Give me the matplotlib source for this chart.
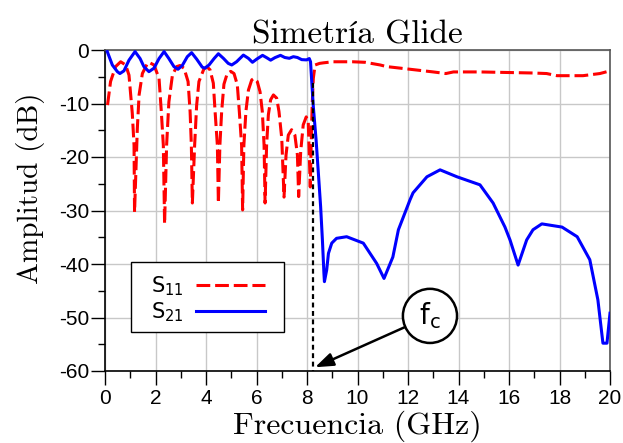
import matplotlib
matplotlib.use("Agg")
import matplotlib.pyplot as plt
from matplotlib.patches import Rectangle
from matplotlib.ticker import MultipleLocator, FuncFormatter

# ---- data ----
s21_freq = [0.09, 0.29, 0.49, 0.59, 0.75, 0.95, 1.19, 1.39, 1.54, 1.74, 1.94, 2.14, 2.34,
            2.53, 2.73, 2.89, 3.06, 3.26, 3.43, 3.63, 3.85, 3.95, 4.12, 4.32, 4.49, 4.69,
            4.88, 5.02, 5.21, 5.48, 5.68, 5.84, 6.01, 6.24, 6.4, 6.56, 6.73, 6.95, 7.12,
            7.3, 7.46, 7.62, 7.79, 7.98, 8.09, 8.14, 8.18, 8.25, 8.36, 8.45, 8.54, 8.61,
            8.67, 8.69, 8.78, 8.85, 8.98, 9.17, 9.57, 10.23, 10.76, 11.05, 11.4, 11.62,
            12.08, 12.2, 12.75, 13.27, 13.94, 14.85, 15.37, 15.84, 16.04, 16.36, 16.7,
            16.95, 17.3, 18.1, 18.7, 19.2, 19.52, 19.72, 19.88, 20.0]
s21_db = [-0.3, -2.8, -4.05, -4.4, -3.9, -1.9, -0.3, -1.6, -3.1, -4.05, -3.4, -1.6, -0.3,
          -1.6, -3.1, -3.6, -2.9, -1.25, -0.5, -1.7, -3.2, -3.4, -2.8, -1.6, -0.7, -1.56,
          -2.5, -2.8, -2.2, -0.95, -1.56, -2.3, -1.7, -1.0, -1.43, -1.9, -1.43, -1.0, -1.4,
          -1.55, -1.25, -1.4, -1.8, -1.85, -1.6, -2.2, -5.3, -10.6, -16.8, -23.0, -29.3, -35.5,
          -41.7, -43.3, -41.1, -38.0, -36.1, -35.2, -34.9, -36.1, -39.9, -42.7, -38.7, -33.6,
          -28.0, -26.7, -23.7, -22.4, -23.7, -25.2, -28.6, -33.1, -35.5, -40.2, -35.5,
          -33.6, -32.5, -33.1, -34.9, -39.2, -46.7, -54.8, -54.8, -49.2]

s11_freq = [0.1, 0.22, 0.42, 0.62, 0.82, 0.95, 1.08, 1.15, 1.17, 1.28, 1.35, 1.48, 1.68,
            1.74, 1.94, 2.14, 2.23, 2.31, 2.36, 2.44, 2.53, 2.67, 2.84, 2.97, 3.13, 3.29,
            3.37, 3.42, 3.46, 3.55, 3.63, 3.72, 3.92, 4.05, 4.16, 4.29, 4.36, 4.45, 4.49,
            4.55, 4.62, 4.71, 4.84, 4.98, 5.11, 5.24, 5.32, 5.41, 5.45, 5.5, 5.58, 5.68,
            5.81, 5.9, 6.03, 6.14, 6.23, 6.3, 6.34, 6.4, 6.47, 6.56, 6.67, 6.8, 6.89, 7.0,
            7.09, 7.17, 7.26, 7.39, 7.52, 7.62, 7.67, 7.75, 7.85, 7.97, 8.05, 8.13, 8.18,
            8.21, 8.25, 8.32, 8.5, 8.65, 9.03, 9.8, 10.3, 10.9, 11.15, 12.08, 13.0, 13.5,
            13.8, 14.85, 15.9, 16.95, 17.49, 17.9, 18.93, 19.6, 20.0]
s11_db = [-10.3, -5.9, -3.1, -2.2, -2.8, -4.7, -11.8, -17.8, -30.3, -14.7, -8.4, -4.4, -2.5,
          -2.3, -2.8, -5.3, -11.5, -17.8, -32.5, -17.8, -9.7, -4.7, -3.1, -2.9, -3.4, -5.9,
          -11.5, -17.8, -28.6, -17.8, -10.3, -5.9, -3.5, -3.2, -3.7, -6.2, -11.5, -17.8, -28.6,
          -17.8, -11.5, -6.4, -4.4, -4.0, -4.4, -6.5, -11.5, -17.8, -29.9, -17.8, -11.5, -7.5,
          -5.6, -5.3, -5.9, -7.8, -11.5, -17.8, -28.6, -17.8, -12.1, -9.3, -8.4, -9.0, -11.5,
          -16.5, -27.5, -19.6, -15.9, -14.9, -15.9, -19.6, -27.4, -19.0, -14.0, -12.5, -13.5,
          -25.6, -14.6, -9.7, -5.3, -2.8, -2.5, -2.4, -2.2, -2.2, -2.3, -2.8, -3.1, -3.6,
          -4.1, -4.4, -4.1, -4.1, -4.2, -4.3, -4.4, -4.8, -4.8, -4.4, -3.9]

fc_ghz = 8.22
x_ticks = list(range(0, 21, 2))
y_ticks = list(range(-60, 1, 10))

# ---- figure ----
fig = plt.figure(figsize=(6.23, 4.43), dpi=100)
ax = fig.add_axes([105 / 623, 72 / 443, 505 / 623, 321 / 443])

ax.grid(True, which='major', color='#c8c8c8', linewidth=1.0, zorder=0)
ax.set_axisbelow(True)

ax.plot(s11_freq, s11_db, color='#ff0000', linewidth=2.2, dashes=(4.5, 1.6),
        label='S$_{11}$', zorder=3)
ax.plot(s21_freq, s21_db, color='#0000ff', linewidth=2.2, label='S$_{21}$', zorder=4)

ax.plot([fc_ghz, fc_ghz], [-6.2, -60], color='black', linewidth=1.6,
        dashes=(2.2, 1.6), zorder=5)

ax.annotate(r'$\mathsf{f}_{\mathsf{c}}$', xy=(8.32, -59.3), xytext=(12.87, -49.7),
            ha='center', va='center', fontsize=20, math_fontfamily='dejavusans',
            bbox=dict(boxstyle='circle,pad=0.42', fc='white', ec='black', lw=1.8),
            arrowprops=dict(arrowstyle='-|>,head_length=0.55,head_width=0.2',
                            color='black', lw=1.8, shrinkA=0, shrinkB=0),
            zorder=6)

ax.set_xlim(0, 20)
ax.set_ylim(-60, 0)
ax.set_xticks(x_ticks)
ax.set_yticks(y_ticks)
ax.xaxis.set_minor_locator(MultipleLocator(1))
ax.yaxis.set_minor_locator(MultipleLocator(5))
ax.yaxis.set_major_formatter(FuncFormatter(lambda v, p: '%d' % v))
ax.tick_params(which='major', direction='out', length=10, width=1, labelsize=15,
               colors='black')
ax.tick_params(which='minor', direction='out', length=5, width=1)
ax.tick_params(axis='x', which='major', pad=3)
ax.tick_params(axis='y', which='major', pad=1.5)
for lab in ax.get_xticklabels() + ax.get_yticklabels():
    lab.set_fontfamily('Liberation Sans')

for s in ['top', 'right']:
    ax.spines[s].set_color('#555555')
    ax.spines[s].set_linewidth(1.2)
for s in ['left', 'bottom']:
    ax.spines[s].set_color('black')
    ax.spines[s].set_linewidth(1.2)

ax.set_title('Simetría Glide', family=['cmr10', 'STIXGeneral'], fontsize=24, pad=5)
ax.set_xlabel('Frecuencia (GHz)', family='cmr10', fontsize=23, labelpad=2)
ax.set_ylabel('Amplitud (dB)', family='cmr10', fontsize=21)
ax.yaxis.set_label_coords(-0.118, 0.57)

# legend frame drawn as a box, legend content centered in it
box = Rectangle((0.0515, 0.1215), 0.303, 0.218, transform=ax.transAxes,
                facecolor='white', edgecolor='black', linewidth=1.0, zorder=6.5)
ax.add_patch(box)
leg = ax.legend(loc='center', bbox_to_anchor=(0.204, 0.224), markerfirst=False,
                fontsize=15, frameon=False, handlelength=3.3, borderpad=0,
                labelspacing=0.1, borderaxespad=0, handletextpad=0.58)
leg.set_zorder(7)

fig.savefig('out.png', dpi=100)
